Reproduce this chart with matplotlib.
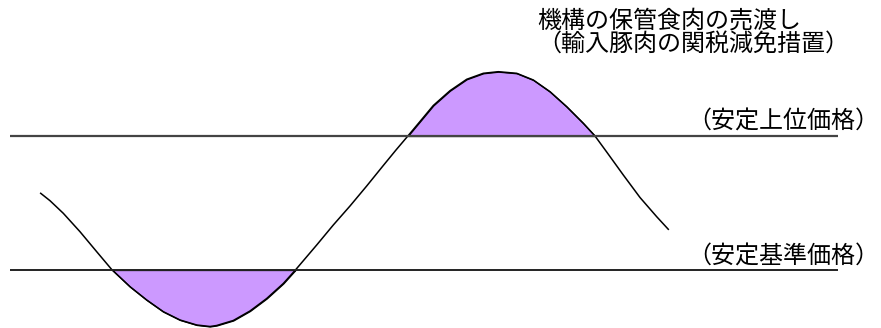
import numpy as np
import matplotlib.pyplot as plt

plt.rcParams['font.family'] = ['Noto Sans CJK JP', 'DejaVu Sans']

# curve points (pixel-like units, y grows downward)
curve_x = [40.7, 50, 63.3, 80, 96.7, 111.7, 130, 146.7, 163.3, 180, 196.7, 210,
           216.7, 233.3, 250, 266.7, 283.3, 295, 316.7, 333.3, 350, 366.7, 383.3,
           396, 408.3, 420, 433.3, 450, 466.7, 483.3, 498.3, 516.7, 533.3, 550,
           566.7, 583.3, 595, 606.7, 623.3, 640, 656.7, 668.3]
curve_y = [193.3, 200.7, 213.3, 231.7, 251.7, 269.5, 286.7, 300, 311.7, 320, 325, 326.5,
           325.5, 320.5, 311, 298.5, 283.5, 270.5, 245, 225, 206, 186, 165.5,
           150, 135.5, 121.5, 105.5, 90.7, 79.3, 73.3, 71.7, 73.3, 80, 91.7,
           106.7, 123.3, 136, 152, 175, 197.5, 216.7, 229.3]

upper_price = 136   # 安定上位価格
lower_price = 270   # 安定基準価格
line_start, line_end = 10, 838

top_note = ['機構の保管食肉の売渡し', '（輸入豚肉の関税減免措置）']
upper_label = '（安定上位価格）'
lower_label = '（安定基準価格）'

x = np.array(curve_x)
y = np.array(curve_y)

fig = plt.figure(figsize=(8.81, 3.28), dpi=100)
ax = fig.add_axes([0, 0, 1, 1])
ax.set_xlim(0, 881)
ax.set_ylim(328, 0)
ax.axis('off')

fill_c = '#CC99FF'
ax.fill_between(x, y, upper_price, where=y <= upper_price, interpolate=True,
                facecolor=fill_c, edgecolor='black', linewidth=0.9)
ax.fill_between(x, y, lower_price, where=y >= lower_price, interpolate=True,
                facecolor=fill_c, edgecolor='black', linewidth=0.9)

ax.plot(x, y, color='black', lw=1.1)
ax.hlines(upper_price, line_start, line_end, color='#444444', lw=1.6)
ax.hlines(lower_price, line_start, line_end, color='#222222', lw=1.4)

fs = 17.3
ax.text(687, 122, upper_label, fontsize=fs, ha='left', va='center')
ax.text(687, 256.5, lower_label, fontsize=fs, ha='left', va='center')
ax.text(537, 20.5, top_note[0], fontsize=fs, ha='left', va='center')
ax.text(537, 44, top_note[1], fontsize=fs, ha='left', va='center')

fig.savefig('out.png', dpi=100)
